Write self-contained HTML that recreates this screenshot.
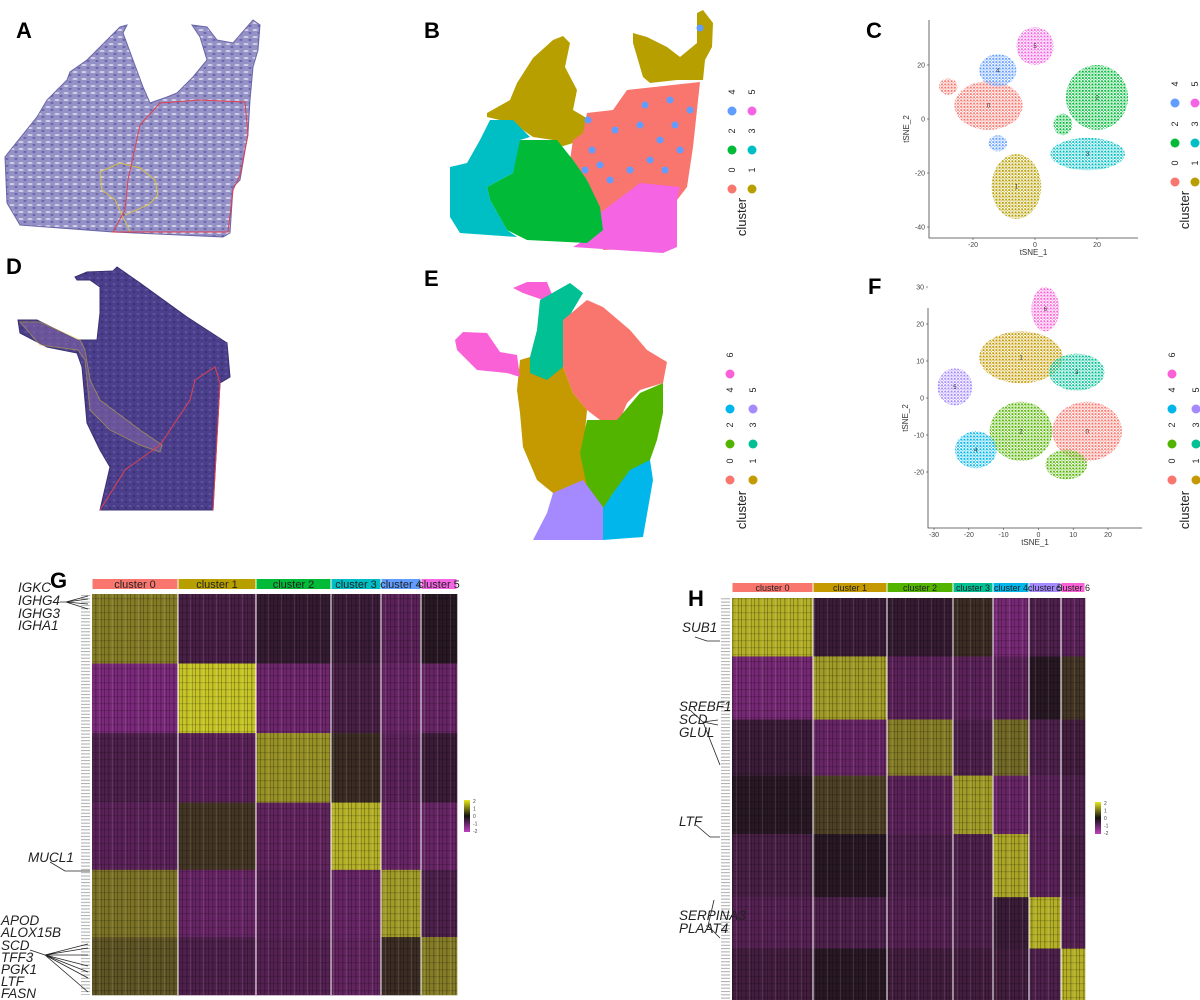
<!DOCTYPE html>
<html><head><meta charset="utf-8"><style>
html,body{margin:0;padding:0;background:#fff;}
svg{display:block;font-family:"Liberation Sans",sans-serif;}
.lbl{font-weight:bold;font-size:22px;fill:#000;}
.gene{font-style:italic;font-size:13.5px;fill:#222;}
.tick{font-size:7px;fill:#444;}
</style></head><body>
<svg id="fig" width="1200" height="1000" viewBox="0 0 1200 1000" xmlns="http://www.w3.org/2000/svg">
<defs>
<pattern id="tisA" width="9" height="7" patternUnits="userSpaceOnUse"><rect width="9" height="7" fill="#9491c6"/><ellipse cx="3" cy="2" rx="2.6" ry="0.9" fill="#dcdaec"/><ellipse cx="7" cy="5" rx="1.6" ry="0.7" fill="#5a52a0"/></pattern>
<pattern id="tisD" width="8" height="6" patternUnits="userSpaceOnUse"><rect width="8" height="6" fill="#4b3f8c"/><ellipse cx="2" cy="2" rx="1.5" ry="0.7" fill="#6a5aa8"/><ellipse cx="6" cy="4" rx="1.2" ry="0.6" fill="#302866"/></pattern>
<pattern id="hmtex" width="13" height="7" patternUnits="userSpaceOnUse"><rect x="0" width="1" height="7" fill="#000" opacity="0.25"/><rect x="4" width="1.5" height="7" fill="#000" opacity="0.2"/><rect x="8" width="1" height="7" fill="#fff" opacity="0.1"/><rect x="10" width="1" height="7" fill="#000" opacity="0.2"/><rect y="3" width="13" height="1.2" fill="#000" opacity="0.15"/></pattern>
<pattern id="genelab" width="10" height="3.3" patternUnits="userSpaceOnUse"><rect x="1" y="1" width="9" height="1" fill="#aaa"/></pattern>
<linearGradient id="cbar" x1="0" y1="0" x2="0" y2="1"><stop offset="0" stop-color="#e8e820"/><stop offset="0.5" stop-color="#111"/><stop offset="1" stop-color="#c040c0"/></linearGradient>
</defs>

<text class="lbl" x="16" y="38">A</text>
<text class="lbl" x="424" y="38">B</text>
<text class="lbl" x="866" y="38">C</text>
<text class="lbl" x="6" y="274">D</text>
<text class="lbl" x="424" y="286">E</text>
<text class="lbl" x="868" y="294">F</text>
<text class="lbl" x="50" y="588">G</text>
<text class="lbl" x="688" y="606">H</text>

<g>
<polygon points="5,157 8,153 37,117 47,100 67,80 70,72 87,60 97,50 110,37 120,27 127,25 123,33 133,60 143,87 150,103 167,97 177,93 193,77 207,60 200,37 192,25 207,27 217,40 233,43 253,20 260,25 258,50 253,67 250,100 248,133 240,180 233,187 230,233 223,237 113,232 20,225 7,203" fill="url(#tisA)" stroke="#6a66a8" stroke-width="1"/>
<path d="M130,232 L115,200 L102,190 L100,172 L120,163 L140,168 L155,180 L158,195 L148,205 L125,215" fill="none" stroke="#d8c040" stroke-width="1"/>
<path d="M113,232 L125,210 L128,180 L140,125 L160,103 L200,100 L245,102 L248,135 L240,175 L233,190 L228,232 Z" fill="none" stroke="#e04050" stroke-width="1"/>
</g>

<g>
<polygon points="75,277 87,272 113,271 117,267 140,283 187,317 227,343 230,377 220,383 213,510 100,510 110,467 100,450 87,423 82,367 77,353 47,347 20,333 18,320 37,320 77,340 97,340 100,313 100,287 90,280 77,280" fill="url(#tisD)" stroke="#3a3070" stroke-width="1"/>
<path d="M20,322 L40,322 L80,340 L85,350 L90,380 L100,400 L140,430 L162,445 L160,452 L140,445 L110,430 L90,410 L85,360 L78,350 L40,345 Z" fill="#8a6aa8" opacity="0.5" stroke="#d8c040" stroke-width="1"/>
<path d="M100,510 L125,470 L160,445 L190,400 L195,380 L215,367 L220,383 L213,510" fill="none" stroke="#e04050" stroke-width="1"/>
</g>

<g id="spatialB"></g>
<g id="spatialE"></g>
<g id="tsneC"></g>
<g id="tsneF"></g>
<g id="legends"></g>
<g id="heatG"></g>
<g id="heatH"></g>

<rect x="80" y="594" width="11" height="401" fill="url(#genelab)"/>
<rect x="720" y="598" width="11" height="402" fill="url(#genelab)"/>

<g stroke="#222" stroke-width="0.8" fill="none">
<path d="M60,602 L66,602 M66,602 L88,596 M66,602 L88,599 M66,602 L88,604 M66,602 L88,609"/>
<path d="M50,862 L65,871 L90,871"/>
<path d="M30,950 L45,955 M45,955 L88,944 M45,955 L88,948 M45,955 L88,955 M45,955 L88,966 M45,955 L88,972 M45,955 L88,978 M45,955 L88,992"/>
</g>
<text class="gene" x="18" y="592">IGKC</text>
<text class="gene" x="18" y="605">IGHG4</text>
<text class="gene" x="18" y="618">IGHG3</text>
<text class="gene" x="18" y="630">IGHA1</text>
<text class="gene" x="28" y="862">MUCL1</text>
<text class="gene" x="1" y="925">APOD</text>
<text class="gene" x="1" y="937">ALOX15B</text>
<text class="gene" x="1" y="950">SCD</text>
<text class="gene" x="1" y="962">TFF3</text>
<text class="gene" x="1" y="974">PGK1</text>
<text class="gene" x="1" y="986">LTF</text>
<text class="gene" x="1" y="998">FASN</text>

<g stroke="#222" stroke-width="0.8" fill="none">
<path d="M695,637 L707,641 L720,641"/>
<path d="M690,710 L703,722 L718,720 M703,722 L718,725 M703,722 L720,765"/>
<path d="M696,825 L710,837 L720,837"/>
<path d="M714,900 L708,926 L720,938 M708,926 L706,926"/>
</g>
<text class="gene" x="682" y="632">SUB1</text>
<text class="gene" x="679" y="711">SREBF1</text>
<text class="gene" x="679" y="724">SCD</text>
<text class="gene" x="679" y="737">GLUL</text>
<text class="gene" x="679" y="826">LTF</text>
<text class="gene" x="679" y="920">SERPINA3</text>
<text class="gene" x="679" y="933">PLAAT4</text>
</svg>

<script>
const NS="http://www.w3.org/2000/svg";
function mk(tag,attrs,parent){const e=document.createElementNS(NS,tag);for(const k in attrs)e.setAttribute(k,attrs[k]);parent.appendChild(e);return e;}

const COL6=["#F8766D","#B79F00","#00BA38","#00BFC4","#619CFF","#F564E3"];
const COL7=["#F8766D","#C49A00","#53B400","#00C094","#00B6EB","#A58AFF","#FB61D7"];

const regionsB=[
 [1,"487,113 510,100 517,83 533,58 553,40 563,36 570,43 565,67 577,90 573,110 590,120 583,140 560,147 553,140 533,137 513,123 487,117"],
 [1,"633,33 647,37 667,47 680,57 697,43 697,13 703,10 713,23 712,47 705,60 703,80 677,80 650,83 643,77 633,43"],
 [0,"587,113 613,110 627,90 700,82 693,147 687,187 677,200 677,247 603,250 600,213 587,180 570,160 573,140 583,133"],
 [5,"600,213 640,183 680,187 677,200 677,247 663,253 573,247 597,233"],
 [2,"520,140 557,140 573,160 587,180 600,207 603,230 587,243 527,240 507,230 490,200 487,187 513,173 517,147"],
 [3,"490,120 513,120 530,137 520,140 513,173 487,187 490,200 507,230 517,237 460,233 450,217 450,167 467,163 480,140"]
];
const spotsB=[[4,592,150],[4,600,165],[4,615,130],[4,640,125],[4,660,140],[4,675,125],[4,680,150],[4,650,160],[4,630,170],[4,665,170],[4,585,170],[4,610,180],[4,690,110],[4,645,105],[4,700,28],[4,588,120],[4,670,100]];
const gB=document.getElementById('spatialB');
regionsB.forEach(r=>{const p=mk('polygon',{points:r[1],fill:COL6[r[0]]},gB);

});
spotsB.forEach(s=>{const c=mk('circle',{cx:s[1],cy:s[2],r:3.5,fill:COL6[s[0]]},gB);

});

const regionsE=[
 [1,"520,360 530,357 563,367 573,393 587,410 583,453 587,487 553,493 537,480 523,447 520,413 517,390"],
 [6,"513,288 527,282 547,282 553,297 543,300 523,293"],
 [6,"455,340 463,332 487,333 500,352 517,355 520,377 507,373 477,370 457,350"],
 [3,"540,300 570,283 583,293 567,320 563,367 547,380 530,373 530,357 537,330"],
 [0,"563,320 587,300 603,307 630,330 647,350 667,362 663,383 640,390 627,403 617,427 600,420 587,410 573,393 563,367"],
 [2,"663,383 663,413 657,440 650,460 613,493 603,510 587,487 580,453 587,420 617,420 640,393"],
 [4,"650,460 653,480 643,537 603,540 600,513 613,493 630,470"],
 [5,"553,493 583,480 603,507 603,540 533,540 547,513"]
];
const gE=document.getElementById('spatialE');
regionsE.forEach(r=>{const p=mk('polygon',{points:r[1],fill:COL7[r[0]]},gE);

});

const tsneC_clusters=[0,0,4,4,5,2,2,3,1];
const tsneC_cx=[-15,-28,-12,-12,0,20,9,17,-6];
const tsneC_cy=[5,12,18,-9,27,8,-2,-13,-25];
const tsneC_rx=[11,3,6,3,6,10,3,12,8];
const tsneC_ry=[9,3,6,3,7,12,4,6,12];
const tsneC_xticks=[-20,0,20];
const tsneC_yticks=[-40,-20,0,20];

const tsneF_clusters=[0,1,2,2,3,4,5,6];
const tsneF_cx=[14,-5,-5,8,11,-18,-24,2];
const tsneF_cy=[-9,11,-9,-18,7,-14,3,24];
const tsneF_rx=[10,12,9,6,8,6,5,4];
const tsneF_ry=[8,7,8,4,5,5,5,6];
const tsneF_xticks=[-30,-20,-10,0,10,20];
const tsneF_yticks=[-20,-10,0,10,20,30];

function tsne(gid,cfg,cl,cx,cy,rx,ry,xt,yt,cols){
 const g=document.getElementById(gid);
 const X=v=>cfg.x0+v*cfg.kx, Y=v=>cfg.y0-v*cfg.ky;
 const d=mk('defs',{},g);
 cols.forEach((c,i)=>{const p=mk('pattern',{id:gid+'p'+i,width:3.2,height:3.2,patternUnits:'userSpaceOnUse'},d);
  mk('circle',{cx:1.2,cy:1.2,r:1.1,fill:c},p);mk('circle',{cx:2.8,cy:2.6,r:0.7,fill:c,opacity:0.8},p);});
 for(let i=0;i<cl.length;i++){
  const e=mk('ellipse',{cx:X(cx[i]),cy:Y(cy[i]),rx:rx[i]*cfg.kx,ry:ry[i]*cfg.ky,fill:'url(#'+gid+'p'+cl[i]+')'},g);
  
  
 }
 const seen={};
 for(let i=0;i<cl.length;i++){ if(seen[cl[i]])continue; seen[cl[i]]=1;
  const t=mk('text',{x:X(cx[i]),y:Y(cy[i])+2,'font-size':6,fill:'#333','text-anchor':'middle'},g);t.textContent=cl[i];
  
  }
 const ax=mk('path',{d:`M${cfg.left},${cfg.top} L${cfg.left},${cfg.bottom} L${cfg.right},${cfg.bottom}`,stroke:'#444',fill:'none','stroke-width':0.8},g);
 
 
 xt.forEach(v=>{mk('line',{x1:X(v),x2:X(v),y1:cfg.bottom,y2:cfg.bottom+2,stroke:'#444','stroke-width':0.6},g);
  const t=mk('text',{x:X(v),y:cfg.bottom+9,class:'tick','text-anchor':'middle'},g);t.textContent=v;
  
  });
 yt.forEach(v=>{mk('line',{x1:cfg.left-2,x2:cfg.left,y1:Y(v),y2:Y(v),stroke:'#444','stroke-width':0.6},g);
  const t=mk('text',{x:cfg.left-4,y:Y(v)+2.5,class:'tick','text-anchor':'end'},g);t.textContent=v;
  
  });
 const xl=mk('text',{x:(cfg.left+cfg.right)/2,y:cfg.bottom+17,'font-size':8,fill:'#333','text-anchor':'middle'},g);xl.textContent='tSNE_1';
 
 
 const ym=(cfg.top+cfg.bottom)/2;
 const yl=mk('text',{x:cfg.left-20,y:ym,'font-size':8,fill:'#333','text-anchor':'middle',transform:`rotate(-90 ${cfg.left-20} ${ym})`},g);yl.textContent='tSNE_2';
 
 
}
tsne('tsneC',{x0:1035,kx:3.1,y0:119,ky:2.7,left:929,right:1138,top:20,bottom:238},tsneC_clusters,tsneC_cx,tsneC_cy,tsneC_rx,tsneC_ry,tsneC_xticks,tsneC_yticks,COL6);
tsne('tsneF',{x0:1038.4,kx:3.48,y0:398,ky:3.7,left:928,right:1142,top:308,bottom:528},tsneF_clusters,tsneF_cx,tsneF_cy,tsneF_rx,tsneF_ry,tsneF_xticks,tsneF_yticks,COL7);

const legG=document.getElementById('legends');
function legend(n,cols,xL,xR,ys,titleX,titleY){
 for(let k=0;k<n;k++){
  const col=k%2, row=Math.floor(k/2);
  const x=col?xR:xL, y=ys[row];
  const c=mk('circle',{cx:x,cy:y,r:4.5,fill:cols[k]},legG);
  
  
  const t=mk('text',{x:x+3,y:y-19,'font-size':9,fill:'#222',transform:`rotate(-90 ${x+3} ${y-19})`,'text-anchor':'middle'},legG);t.textContent=k;
  
  
 }
 const tt=mk('text',{x:titleX,y:titleY,'font-size':13,fill:'#222','text-anchor':'middle',transform:`rotate(-90 ${titleX} ${titleY})`},legG);tt.textContent='cluster';
 
 
}
legend(6,COL6,732,752,[189,150,111],746,217);
legend(7,COL7,730,753,[480,444,409,374],746,510);
legend(6,COL6,1175,1195,[182,143,103],1189,210);
legend(7,COL7,1172,1196,[480,444,409,374],1189,510);

const heatG_clusters=["cluster 0","cluster 1","cluster 2","cluster 3","cluster 4","cluster 5"];
const heatG_z=[
 [1.0,-0.5,-0.2,-0.3,-0.8,0.0],
 [-1.3,1.7,-1.1,-0.5,-1.0,-1.0],
 [-0.6,-0.8,1.2,0.2,-0.8,-0.3],
 [-0.8,0.3,-0.9,1.5,-1.0,-1.0],
 [0.9,-1.0,-0.8,-1.0,1.3,-0.6],
 [0.6,-0.6,-0.7,-0.9,0.2,1.0]];
const heatG_cellCounts=[86,78,75,50,40,36];
const heatG_geneCounts=[30,30,30,29,29,25];

const heatH_clusters=["cluster 0","cluster 1","cluster 2","cluster 3","cluster 4","cluster 5","cluster 6"];
const heatH_z=[
 [1.5,-0.3,-0.2,0.2,-1.2,-0.6,-0.8],
 [-1.2,1.3,-0.8,-0.8,-0.8,0.0,0.3],
 [-0.3,-1.0,1.0,-0.6,0.8,-0.6,-0.4],
 [0.0,0.4,-0.8,1.3,-1.0,-0.8,-0.6],
 [-0.5,0.0,-0.6,-0.6,1.4,-0.8,-0.5],
 [-0.7,-0.6,-0.7,-0.6,-0.3,1.5,-0.7],
 [-0.4,0.0,-0.4,-0.4,-0.4,-0.6,1.5]];
const heatH_cellCounts=[81,74,66,40,36,32,24];
const heatH_geneCounts=[25,27,24,25,27,22,22];
const heatScale=[-2,2];

function zcol(z){
 let t=(z-heatScale[0])/(heatScale[1]-heatScale[0])*2-1;
 t=Math.max(-1,Math.min(1,t));
 const lo=[168,50,168], mid=[40,24,36], hi=[226,226,40];
 const b=(t>=0)?hi:lo, f=Math.abs(t);
 return `rgb(${Math.round(mid[0]+(b[0]-mid[0])*f)},${Math.round(mid[1]+(b[1]-mid[1])*f)},${Math.round(mid[2]+(b[2]-mid[2])*f)})`;
}
function heat(gid,box,names,z,cells,genes,cols,bandY,bandH,fs,cb){
 const g=document.getElementById(gid);
 const totC=cells.reduce((a,b)=>a+b,0), totG=genes.reduce((a,b)=>a+b,0);
 const W=box.x1-box.x0, H=box.y1-box.y0;
 const xs=[box.x0]; cells.forEach(c=>xs.push(xs[xs.length-1]+c/totC*W));
 const ys=[box.y0]; genes.forEach(c=>ys.push(ys[ys.length-1]+c/totG*H));
 for(let r=0;r!==z.length;r++)for(let c=0;c!==names.length;c++){
  const e=mk('rect',{x:xs[c],y:ys[r],width:xs[c+1]-xs[c]+0.3,height:ys[r+1]-ys[r]+0.3,fill:zcol(z[r][c])},g);
  
  
 }
 mk('rect',{x:box.x0,y:box.y0,width:W,height:H,fill:'url(#hmtex)'},g);
 for(let c=0;c!==names.length;c++){
  const b=mk('rect',{x:xs[c]+0.5,y:bandY,width:xs[c+1]-xs[c]-1,height:bandH,fill:cols[c]},g);
  
  
  const t=mk('text',{x:(xs[c]+xs[c+1])/2,y:bandY+bandH-1,'font-size':fs,fill:'#222','text-anchor':'middle'},g);t.textContent=names[c];
  
  
  if(c>0){mk('line',{x1:xs[c],x2:xs[c],y1:box.y0,y2:box.y1,stroke:'#fff','stroke-width':1},g);}
 }
 const bar=mk('rect',{x:cb[0],y:cb[1],width:6,height:32,fill:'url(#cbar)'},g);
 
 
 [2,1,0,-1,-2].forEach((v,i)=>{const t=mk('text',{x:cb[0]+9,y:cb[1]+3+i*7.5,'font-size':5,fill:'#444'},g);t.textContent=v;
  
  });
}
heat('heatG',{x0:92,x1:457,y0:594,y1:995},heatG_clusters,heatG_z,heatG_cellCounts,heatG_geneCounts,COL6,579,10,11,[464,800]);
heat('heatH',{x0:732,x1:1085,y0:598,y1:1000},heatH_clusters,heatH_z,heatH_cellCounts,heatH_geneCounts,COL7,583,9,9,[1095,802]);
</script>
</body></html>
